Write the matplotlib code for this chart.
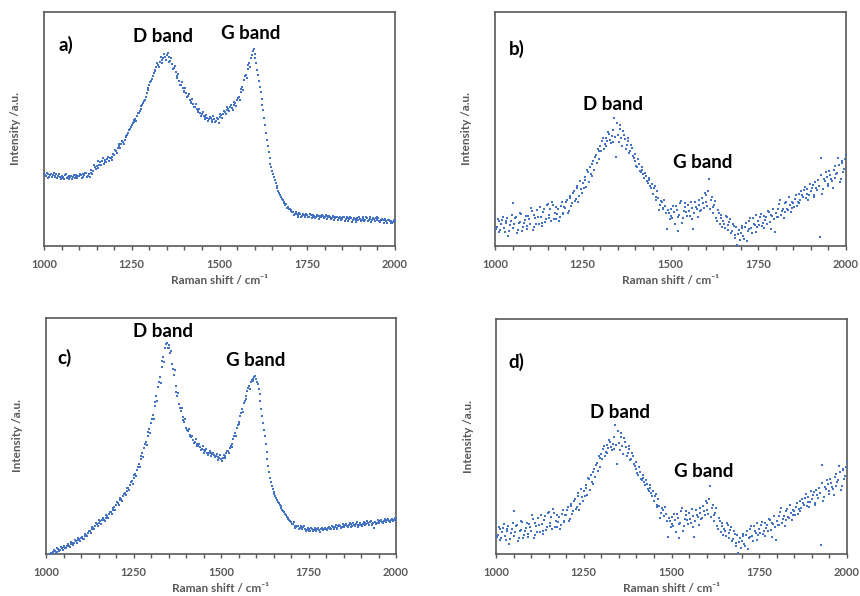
import numpy as np
import matplotlib
matplotlib.use("Agg")
import matplotlib.pyplot as plt
from matplotlib.ticker import MultipleLocator

# Raman shift sampling (cm-1): full steps and the half steps in between
shift_full = np.arange(1000, 2001, 5)
shift_half = np.arange(1002.5, 2000, 5)

# Spectrum a) intensity (a.u.) at full steps
spec_a = [
    31.0, 29.8, 30.6, 29.5, 30.9, 30.2, 29.4, 30.8, 30.1, 29.7,
    28.9, 29.6, 30.4, 29.2, 30.0, 29.5, 28.8, 30.3, 29.9, 29.1,
    29.8, 30.5, 29.3, 30.2, 31.0, 30.1, 29.5, 31.2, 32.0, 33.6,
    34.2, 33.5, 35.8, 36.4, 35.2, 36.8, 37.0, 36.5, 37.4, 38.2,
    38.8, 40.5, 42.0, 42.8, 43.6, 44.5, 45.2, 46.8, 48.2, 50.0,
    51.6, 52.8, 54.2, 55.5, 57.0, 58.5, 60.2, 61.8, 63.8, 66.5,
    69.0, 70.5, 72.6, 74.8, 76.5, 77.2, 78.6, 79.4, 80.2, 80.8,
    81.5, 80.6, 79.2, 77.8, 76.0, 74.2, 72.0, 70.4, 69.0, 67.5,
    66.4, 65.2, 64.0, 62.5, 61.4, 60.6, 59.5, 58.4, 57.6, 56.8,
    56.2, 55.4, 55.0, 54.6, 54.2, 54.8, 53.9, 54.1, 53.6, 54.3,
    55.0, 55.8, 56.6, 57.4, 58.2, 58.6, 59.3, 59.0, 60.1, 61.0,
    62.4, 63.8, 65.8, 68.0, 70.8, 73.0, 75.6, 78.0, 80.4, 83.2,
    82.0, 78.0, 73.2, 68.0, 63.0, 58.0, 51.5, 45.2, 40.0, 35.2,
    32.0, 29.5, 27.0, 24.6, 22.6, 21.0, 19.6, 18.8, 17.8, 16.8,
    16.0, 15.0, 14.4, 13.6, 13.8, 13.2, 13.5, 12.9, 13.4, 12.8,
    13.1, 12.6, 13.3, 12.4, 12.9, 12.2, 12.7, 13.0, 12.3, 12.8,
    12.5, 12.9, 12.2, 12.6, 12.0, 12.4, 11.9, 12.3, 11.8, 12.1,
    11.7, 12.2, 11.6, 11.9, 11.4, 11.8, 11.2, 11.7, 11.3, 11.0,
    11.5, 11.1, 11.7, 11.3, 11.8, 11.2, 11.6, 11.0, 11.4, 11.9,
    11.2, 10.8, 11.3, 10.9, 11.0, 10.6, 11.1, 10.5, 10.8, 10.4,
    10.6,
]
# Spectrum a) intensity (a.u.) at half steps
spec_a_half = [
    30.2, 31.1, 29.0, 30.4, 29.6, 31.0, 29.9, 29.2, 30.7, 28.8,
    29.9, 28.6, 30.8, 29.4, 28.7, 30.1, 29.6, 28.9, 30.5, 29.8,
    30.9, 29.0, 30.6, 31.4, 29.6, 30.8, 32.4, 30.6, 34.6, 33.0,
    36.2, 34.8, 34.6, 37.6, 36.0, 35.8, 38.2, 37.8, 36.8, 39.4,
    41.2, 39.8, 43.4, 41.8, 45.0, 43.8, 46.4, 47.6, 49.6, 50.8,
    52.6, 54.0, 53.4, 56.8, 57.6, 59.8, 61.2, 62.6, 65.4, 67.6,
    70.2, 71.2, 74.0, 75.4, 78.2, 76.4, 80.8, 78.2, 82.0, 79.6,
    82.4, 78.8, 80.4, 75.6, 76.8, 72.8, 73.6, 68.8, 70.2, 66.0,
    67.6, 63.8, 65.0, 61.2, 62.8, 59.2, 60.6, 57.2, 58.6, 55.6,
    57.2, 54.2, 56.0, 53.4, 55.2, 53.2, 55.4, 52.8, 54.6, 52.6,
    56.4, 54.8, 57.8, 56.2, 59.6, 57.6, 60.4, 58.2, 61.6, 59.8,
    63.4, 62.6, 67.2, 66.8, 72.6, 71.6, 77.4, 76.6, 81.8, 84.4,
    80.2, 75.4, 70.6, 65.6, 60.4, 54.6, 48.2, 42.6, 37.4, 33.8,
    30.6, 28.4, 25.8, 23.4, 21.8, 20.2, 18.2, 17.4, 16.4, 15.6,
    15.4, 14.6, 13.2, 14.4, 12.6, 14.0, 12.4, 13.8, 12.2, 13.6,
    12.2, 13.8, 11.8, 13.4, 12.0, 13.2, 11.6, 12.4, 13.4, 11.8,
    13.2, 11.6, 13.0, 11.4, 12.8, 11.2, 12.6, 11.0, 12.4, 11.2,
    12.6, 10.8, 12.4, 10.6, 12.2, 10.4, 12.0, 10.2, 11.8, 12.2,
    10.6, 12.4, 10.8, 12.6, 10.6, 12.2, 10.4, 12.0, 10.8, 12.6,
    11.8, 10.2, 11.6, 10.0, 11.4, 9.8, 11.2, 10.0, 9.8, 11.0,
]

# Spectrum b) intensity (a.u.) at full steps; the same spectrum is shown in d)
spec_b = [
    13.0, 8.2, 10.5, 6.8, 11.2, 7.5, 9.8, 12.0, 6.4, 10.6,
    18.4, 9.2, 12.5, 7.0, 10.4, 13.6, 8.0, 11.2, 7.4, 12.8,
    9.6, 14.8, 8.2, 11.8, 15.2, 9.4, 12.6, 10.0, 16.0, 11.4,
    18.0, 13.2, 10.6, 17.4, 14.0, 11.6, 15.8, 12.4, 18.6, 14.2,
    16.4, 19.8, 15.0, 21.2, 18.4, 23.6, 20.0, 25.8, 21.4, 24.2,
    26.8, 29.4, 25.2, 31.8, 33.6, 30.0, 36.2, 38.0, 35.4, 40.8,
    42.6, 44.8, 41.6, 46.2, 45.0, 47.8, 44.2, 49.6, 54.8, 38.2,
    47.4, 51.6, 46.0, 49.2, 45.6, 43.0, 44.8, 40.6, 41.8, 37.6,
    36.2, 33.8, 35.0, 31.6, 32.4, 29.2, 30.0, 27.0, 28.2, 24.8,
    22.4, 25.6, 19.8, 20.6, 17.6, 18.8, 16.2, 17.0, 7.2, 14.0,
    15.6, 11.8, 14.6, 17.2, 6.6, 13.4, 19.4, 12.0, 16.6, 14.4,
    17.4, 13.0, 16.2, 7.4, 18.8, 15.8, 17.6, 14.8, 20.4, 16.4,
    21.6, 17.2, 28.8, 19.6, 16.8, 17.4, 12.0, 15.4, 9.4, 13.2,
    10.8, 7.6, 12.2, 9.0, 11.4, 6.2, 8.4, 4.8, 0.6, 7.0,
    5.4, 8.6, 3.2, 9.8, 6.6, 10.6, 7.8, 11.8, 9.0, 6.0,
    10.6, 12.2, 8.4, 13.0, 11.0, 9.6, 14.4, 7.2, 12.8, 11.4,
    14.0, 12.2, 17.8, 13.4, 16.0, 14.6, 19.0, 15.2, 17.6, 16.4,
    18.2, 20.0, 17.0, 22.4, 19.6, 21.6, 23.8, 20.4, 24.2, 22.0,
    23.4, 26.2, 21.8, 25.0, 28.0, 3.8, 37.8, 24.4, 27.6, 29.6,
    26.6, 30.4, 27.8, 32.6, 29.0, 31.4, 34.8, 28.8, 36.2, 33.0,
    39.0,
]
# Spectrum b) intensity (a.u.) at half steps
spec_b_half = [
    7.2, 11.6, 5.8, 9.4, 12.6, 6.0, 10.8, 4.4, 9.0, 13.4,
    7.8, 12.0, 5.4, 10.0, 14.2, 6.6, 9.8, 13.0, 8.6, 11.4,
    16.4, 7.0, 13.2, 9.4, 12.4, 16.8, 8.6, 14.6, 10.2, 17.6,
    12.0, 15.6, 19.0, 11.6, 16.6, 13.8, 10.8, 17.2, 13.6, 16.8,
    18.6, 14.2, 20.4, 17.0, 22.6, 19.2, 24.8, 18.6, 27.6, 22.6,
    24.6, 28.0, 32.4, 27.4, 30.8, 35.0, 32.6, 38.8, 41.6, 37.2,
    40.6, 46.0, 43.4, 42.8, 48.6, 45.4, 47.0, 44.6, 46.4, 52.4,
    44.4, 49.8, 42.6, 47.6, 41.6, 46.0, 39.8, 43.0, 38.4, 39.2,
    34.4, 37.0, 32.0, 33.8, 30.6, 31.4, 27.6, 29.2, 25.8, 26.6,
    24.6, 21.0, 23.6, 15.4, 19.4, 16.0, 19.8, 14.2, 15.4, 11.6,
    12.8, 17.0, 9.4, 15.2, 12.6, 18.2, 10.0, 15.0, 18.4, 12.8,
    15.0, 19.0, 11.6, 14.2, 16.6, 12.4, 19.6, 15.2, 18.2, 22.6,
    18.8, 23.4, 15.6, 20.8, 14.0, 19.4, 10.6, 14.2, 11.8, 8.0,
    9.6, 13.0, 7.0, 10.4, 5.4, 9.6, 3.6, 8.2, 5.2, 2.4,
    7.6, 4.4, 8.0, 2.0, 7.4, 11.8, 5.6, 9.6, 13.2, 8.2,
    8.8, 13.6, 10.0, 7.8, 12.4, 15.0, 10.4, 13.4, 16.0, 6.0,
    12.4, 16.0, 19.6, 14.8, 11.8, 18.4, 15.6, 21.0, 14.4, 18.8,
    16.8, 21.8, 19.0, 18.4, 23.6, 20.8, 25.4, 22.2, 19.8, 26.6,
    25.0, 21.0, 27.4, 23.8, 25.8, 30.2, 22.4, 28.6, 31.6, 25.6,
    32.0, 28.6, 25.0, 34.2, 30.8, 37.4, 27.2, 35.6, 31.8, 37.0,
]

# Spectrum c) intensity (a.u.) at full steps
spec_c = [
    -2.0, -1.2, -0.5, 0.3, 0.8, 1.3, 1.0, 2.0, 1.6, 2.6,
    3.0, 2.6, 3.6, 3.3, 4.2, 4.8, 4.5, 5.4, 5.9, 6.2,
    6.8, 6.5, 7.6, 8.2, 8.9, 9.6, 10.4, 11.2, 12.0, 12.6,
    13.0, 13.8, 14.2, 14.6, 15.4, 16.2, 16.8, 17.8, 18.6, 19.8,
    20.8, 21.6, 22.8, 23.4, 24.6, 25.8, 26.8, 28.0, 29.4, 30.8,
    32.2, 34.0, 35.8, 38.0, 40.2, 42.6, 45.0, 47.6, 50.0, 52.8,
    55.6, 59.0, 62.8, 66.8, 70.8, 75.0, 79.4, 83.6, 87.2, 89.4,
    88.6, 85.2, 80.6, 76.0, 71.2, 66.8, 63.4, 60.5, 58.2, 55.8,
    53.6, 52.0, 50.6, 49.4, 48.4, 47.6, 46.8, 45.8, 45.2, 44.6,
    44.0, 43.6, 43.0, 42.8, 42.6, 42.2, 42.0, 41.4, 41.2, 40.6,
    40.2, 40.8, 41.6, 42.8, 43.6, 45.0, 46.8, 48.8, 51.2, 53.4,
    56.0, 58.6, 61.4, 64.0, 66.8, 69.2, 71.0, 72.8, 74.0, 74.8,
    74.2, 72.0, 67.6, 61.6, 55.6, 49.8, 43.2, 37.2, 32.4, 28.8,
    26.4, 24.6, 23.0, 21.4, 20.2, 18.8, 17.6, 16.6, 15.4, 14.4,
    13.4, 12.6, 11.8, 11.4, 11.8, 11.2, 11.0, 11.4, 10.6, 10.2,
    10.4, 9.8, 10.6, 10.2, 10.8, 10.4, 10.0, 10.6, 10.3, 10.7,
    10.6, 10.9, 11.2, 10.8, 11.4, 11.6, 11.2, 11.8, 12.0, 11.6,
    12.0, 12.4, 11.8, 12.2, 12.6, 12.0, 12.4, 12.8, 12.2, 12.5,
    12.4, 12.8, 13.0, 12.6, 13.2, 13.4, 12.9, 13.3, 13.6, 13.2,
    13.6, 13.9, 13.5, 14.0, 13.8, 14.2, 14.0, 14.4, 14.1, 14.6,
    14.6,
]
# Spectrum c) intensity (a.u.) at half steps
spec_c_half = [
    -1.6, -0.8, 0.2, -0.2, 1.6, 0.4, 2.4, 1.2, 3.0, 1.8,
    3.6, 2.4, 4.2, 3.0, 5.2, 4.0, 5.8, 4.6, 6.6, 5.6,
    7.4, 6.2, 8.4, 7.6, 9.8, 8.8, 11.4, 10.6, 13.2, 11.8,
    14.4, 12.8, 15.2, 13.8, 16.4, 15.4, 17.8, 16.8, 19.4, 18.8,
    22.0, 20.6, 23.8, 22.6, 25.6, 24.8, 27.8, 27.0, 30.4, 29.8,
    33.4, 33.0, 37.0, 36.8, 41.6, 41.2, 46.6, 46.0, 51.6, 51.2,
    57.4, 57.2, 64.6, 64.8, 73.0, 72.6, 81.6, 81.2, 88.8, 87.4,
    87.2, 86.0, 78.6, 78.0, 68.8, 68.4, 61.8, 62.0, 56.8, 57.0,
    52.6, 53.0, 49.8, 50.2, 47.2, 48.6, 45.6, 46.8, 44.0, 45.6,
    43.0, 44.4, 42.0, 43.8, 41.6, 43.0, 41.0, 42.4, 40.0, 41.8,
    39.6, 42.0, 40.8, 43.8, 42.6, 45.6, 45.4, 49.8, 50.0, 54.6,
    55.0, 59.6, 60.2, 64.8, 65.6, 70.2, 70.0, 73.6, 73.2, 75.6,
    73.0, 70.0, 64.8, 58.6, 52.6, 46.4, 40.2, 34.6, 30.4, 27.6,
    25.4, 23.8, 22.0, 20.8, 19.4, 18.4, 17.0, 15.8, 14.8, 14.0,
    12.8, 13.4, 11.2, 12.0, 10.8, 12.0, 10.6, 11.8, 9.6, 11.0,
    9.6, 11.0, 9.8, 11.2, 9.6, 11.0, 9.4, 11.0, 10.0, 11.2,
    10.2, 11.6, 10.4, 12.0, 10.8, 12.2, 10.8, 12.4, 11.2, 12.6,
    11.4, 12.8, 11.4, 13.2, 11.6, 13.0, 11.8, 13.4, 11.6, 13.2,
    12.0, 13.6, 12.2, 13.8, 12.4, 14.0, 12.4, 11.2, 12.8, 14.2,
    13.0, 14.6, 13.2, 14.8, 13.4, 15.0, 13.6, 15.0, 13.8, 15.4,
]

panel_tags = ["a)", "b)", "c)", "d)"]
band_names = ["D band", "G band"]
tick_values = [1000, 1250, 1500, 1750, 2000]
x_title = "Raman shift / cm\u207b\u00b9"
y_title = "Intensity /a.u."

AXIS_GREY = "#595959"
POINT_BLUE = "#4472C4"
FONTS = ["Lato", "DejaVu Sans"]

fig = plt.figure(figsize=(8.6, 5.96), dpi=100)

W, H = 860.0, 596.0
# axes boxes in pixels: left, top, right, bottom
boxes = [
    (44, 12, 395, 246),
    (495, 12, 846, 246),
    (46, 318, 396, 554),
    (496, 319, 847, 554),
]
spectra = [
    (spec_a, spec_a_half),
    (spec_b, spec_b_half),
    (spec_c, spec_c_half),
    (spec_b, spec_b_half),
]
# label positions in axes fraction: tag, D band, G band
label_pos = [
    [(0.063, 0.859), (0.339, 0.897), (0.590, 0.910)],
    [(0.063, 0.842), (0.336, 0.603), (0.593, 0.355)],
    [(0.054, 0.830), (0.334, 0.941), (0.600, 0.822)],
    [(0.057, 0.817), (0.353, 0.600), (0.593, 0.353)],
]

for i, (box, (y_full, y_half)) in enumerate(zip(boxes, spectra)):
    l, t, r, b = box
    h_px = b - t
    ax = fig.add_axes([l / W, 1 - b / H, (r - l) / W, h_px / H])
    xs = np.concatenate([shift_full, shift_half])
    ys = np.concatenate([y_full, y_half])
    ax.scatter(xs, ys, s=3.0, marker="s", color=POINT_BLUE,
               linewidths=0, zorder=3)
    ax.set_xlim(1000, 2000)
    ax.set_ylim(0, 100)
    ax.set_yticks([])
    ax.set_xticks(tick_values)
    ax.xaxis.set_minor_locator(MultipleLocator(50))
    ax.tick_params(axis="x", which="both", direction="out", length=3,
                   width=1, color=AXIS_GREY, pad=6)
    for lab in ax.get_xticklabels():
        lab.set_fontfamily(FONTS)
        lab.set_fontweight("bold")
        lab.set_fontsize(8)
        lab.set_color(AXIS_GREY)
    for sp in ax.spines.values():
        sp.set_color(AXIS_GREY)
        sp.set_linewidth(1.2)
    ax.set_xlabel(x_title, family=FONTS, fontweight="bold",
                  fontsize=8.5, color=AXIS_GREY, va="center")
    ax.xaxis.set_label_coords(0.5, -34.0 / h_px)
    ax.set_ylabel(y_title, family=FONTS, fontweight="bold",
                  fontsize=8.5, color=AXIS_GREY, va="center")
    ax.yaxis.set_label_coords(-28.0 / (r - l), 0.5)

    tags = [panel_tags[i]] + band_names
    for txt, (fx, fy) in zip(tags, label_pos[i]):
        ax.text(fx, fy, txt, transform=ax.transAxes, ha="center",
                va="center", family=FONTS, fontweight="bold",
                fontsize=13.5, color="black")

fig.savefig("out.png", dpi=100)
